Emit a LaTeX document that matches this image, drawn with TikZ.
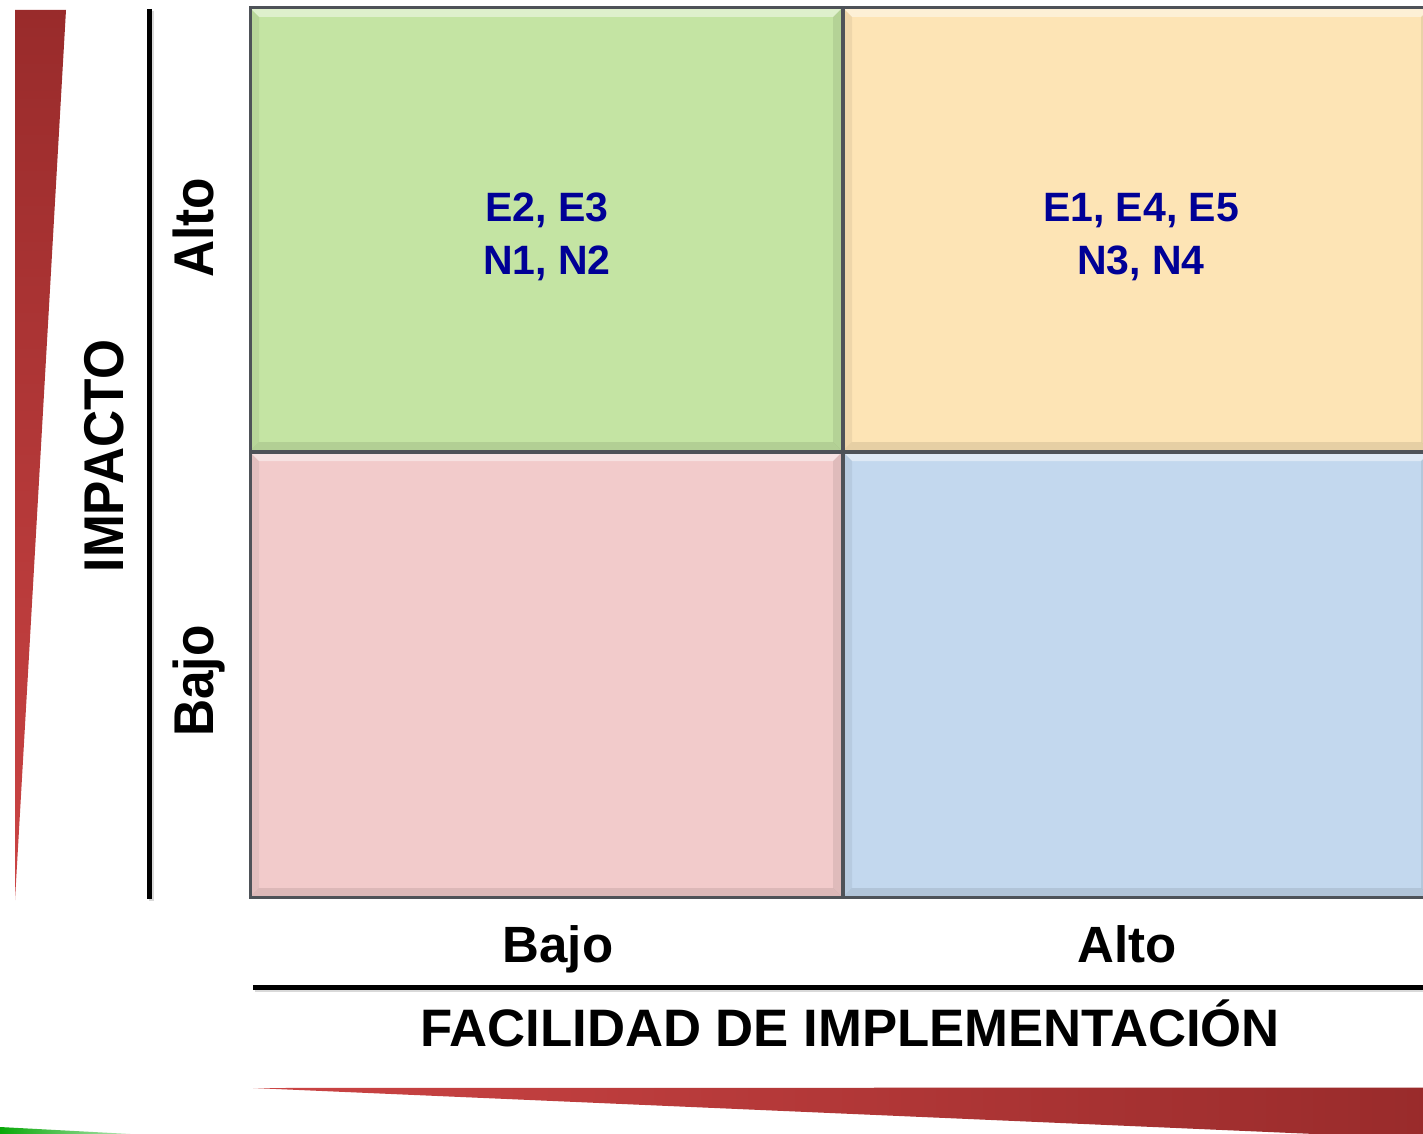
\documentclass[tikz,border=0pt]{standalone}
\usepackage{fontspec}
\setmainfont{Liberation Sans}
\usetikzlibrary{calc}
\definecolor{qgreen}{HTML}{C4E4A3}
\definecolor{qorange}{HTML}{FDE4B5}
\definecolor{qpink}{HTML}{F2CBCB}
\definecolor{qblue}{HTML}{C3D8EE}
\definecolor{qedge}{HTML}{4E5258}
\definecolor{qtext}{HTML}{000096}
\definecolor{rdark}{HTML}{992B2B}
\definecolor{rlight}{HTML}{CB4444}
\definecolor{gsliver}{HTML}{08A808}
\newcommand\bevelbox[1]{%
  \fill[white,opacity=0.45] (#1.north west) -- (#1.north east) -- ($(#1.north east)+(-9,9)$) -- ($(#1.north west)+(9,9)$) -- cycle;
  \fill[black,opacity=0.06] (#1.north west) -- ($(#1.north west)+(9,9)$) -- ($(#1.south west)+(9,-9)$) -- (#1.south west) -- cycle;
  \fill[black,opacity=0.08] (#1.north east) -- ($(#1.north east)+(-9,9)$) -- ($(#1.south east)+(-9,-9)$) -- (#1.south east) -- cycle;
  \fill[black,opacity=0.09] (#1.south west) -- ($(#1.south west)+(9,-9)$) -- ($(#1.south east)+(-9,-9)$) -- (#1.south east) -- cycle;
  \draw[qedge,line width=3pt] (#1.north west) rectangle (#1.south east);
}
\begin{document}
\begin{tikzpicture}[x=1pt,y=-1pt,
  quad/.style={inner sep=0pt,outer sep=0pt,draw=none},
  qlabel/.style={font=\fontsize{41}{48}\selectfont\bfseries,text=qtext,anchor=base,inner sep=0pt},
  axlabel/.style={font=\fontsize{51}{58}\selectfont\bfseries,text=black,anchor=base,inner sep=0pt},
  vlabel/.style={font=\fontsize{51.4}{60}\selectfont\bfseries,text=black,anchor=base,inner sep=0pt,rotate=90},
  rule/.style={line width=5pt,black}]
\useasboundingbox (0,0) rectangle (1423,1134);
\clip (0,0) rectangle (1423,1134);

% red wedges
\shade[top color=rdark,bottom color=rlight] (15,10) -- (66,10) -- (15,900) -- cycle;
\shade[left color=rlight,right color=rdark] (253,1088) -- (1430,1087.5) -- (1430,1139) -- cycle;
\shade[left color=gsliver,right color=gsliver!25] (0,1127) -- (140,1134.5) -- (0,1134.5) -- cycle;

% axis rules
\coordinate (vtop) at (149.5,9);
\coordinate (vbot) at (149.5,899);
\coordinate (hleft) at (253,987.5);
\coordinate (hright) at (1430,987.5);
\draw[black!25,line width=5pt,opacity=0.6] ($(vtop)+(2,2)$) -- ($(vbot)+(2,2)$);
\draw[black!25,line width=5pt,opacity=0.6] ($(hleft)+(2,2)$) -- ($(hright)+(2,2)$);
\draw[rule] (vtop) -- (vbot);
\draw[rule] (hleft) -- (hright);

% quadrants
\node[quad,fill=qgreen,minimum width=592pt,minimum height=443pt] (tl) at (546,229.5) {};
\node[quad,fill=qorange,minimum width=587pt,minimum height=443pt] (tr) at (1136.5,229.5) {};
\node[quad,fill=qpink,minimum width=592pt,minimum height=445pt] (bl) at (546,674.5) {};
\node[quad,fill=qblue,minimum width=587pt,minimum height=445pt] (br) at (1136.5,674.5) {};
\bevelbox{tl}
\bevelbox{tr}
\bevelbox{bl}
\bevelbox{br}

% quadrant texts
\node[qlabel] (t1a) at (547,222) {E2, E3};
\node[qlabel] (t1b) at (547,274) {N1, N2};
\node[qlabel] (t2a) at (1141,222) {E1, E4, E5};
\node[qlabel] (t2b) at (1141,274) {N3, N4};

% axis labels
\node[axlabel] (xb) at (558,962) {Bajo};
\node[axlabel] (xa) at (1127,962) {Alto};
\node[font=\fontsize{52.7}{60}\selectfont\bfseries,anchor=base,inner sep=0pt] (xt) at (850,1046) {FACILIDAD DE IMPLEMENTACIÓN};
\node[vlabel] (yt) at (123,456) {\scalebox{1}[1.09]{IMPACTO}};
\node[vlabel] (ya) at (213,228) {\scalebox{1}[1.09]{Alto}};
\node[vlabel] (yb) at (213,681) {\scalebox{1}[1.09]{Bajo}};
\end{tikzpicture}
\end{document}
